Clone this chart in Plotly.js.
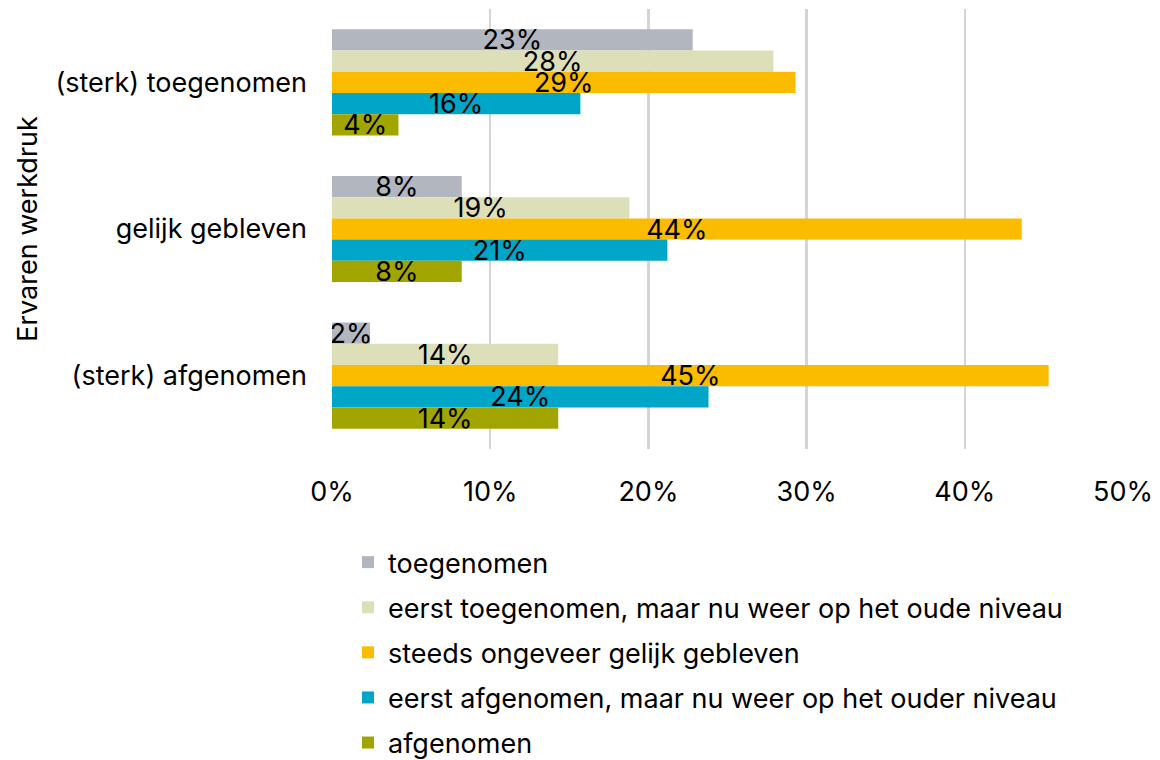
<!DOCTYPE html>
<html>
<head>
<meta charset="utf-8">
<script src="https://cdn.plot.ly/plotly-3.0.1.min.js"></script>
<style>html,body{margin:0;padding:0;background:#fff;}#chart{width:1160px;height:760px;}</style>
</head>
<body>
<div id="chart"></div>
<script>
const categories = ["(sterk) toegenomen", "gelijk gebleven", "(sterk) afgenomen"];
const seriesNames = [
  "toegenomen",
  "eerst toegenomen, maar nu weer op het oude niveau",
  "steeds ongeveer gelijk gebleven",
  "eerst afgenomen, maar nu weer op het ouder niveau",
  "afgenomen"
];
const toegenomen = [0.228, 0.082, 0.024];
const eerstToegenomen = [0.279, 0.188, 0.143];
const steedsGelijk = [0.293, 0.436, 0.453];
const eerstAfgenomen = [0.157, 0.212, 0.238];
const afgenomen = [0.042, 0.082, 0.143];
const colors = ["#b2b6bf", "#dcdfb8", "#fbbc00", "#00a6c8", "#a2a500"];
const xTickVals = [0, 0.1, 0.2, 0.3, 0.4, 0.5];
const xTickText = ["0%", "10%", "20%", "30%", "40%", "50%"];

const FONT = "Inter, sans-serif";
const allSeries = [toegenomen, eerstToegenomen, steedsGelijk, eerstAfgenomen, afgenomen];
const traces = allSeries.map((vals, i) => ({
  type: "bar",
  orientation: "h",
  name: seriesNames[i],
  legendgroup: "g" + i,
  y: categories,
  x: vals,
  marker: {color: colors[i]},
  text: vals.map(v => Math.round(v * 100) + "%"),
  textposition: "inside",
  insidetextanchor: "middle",
  constraintext: "none",
  textangle: 0,
  textfont: {family: FONT, size: 27, color: "#000"},
  hoverinfo: "skip"
}));

const layout = {
  width: 1160,
  height: 760,
  margin: {l: 332, r: 37, t: 9, b: 311},
  paper_bgcolor: "#fff",
  plot_bgcolor: "#fff",
  barmode: "group",
  bargap: 0.276,
  bargroupgap: 0,
  font: {family: FONT, color: "#000"},
  xaxis: {
    range: [0, 0.5],
    tickvals: xTickVals,
    ticktext: xTickText,
    showgrid: true,
    gridcolor: "#d4d4d4",
    gridwidth: 2.5,
    zeroline: false,
    showline: false,
    ticks: "",
    ticklabelstandoff: 24,
    tickfont: {family: FONT, size: 27, color: "#000"},
    automargin: false,
    fixedrange: true
  },
  yaxis: {
    autorange: "reversed",
    showgrid: false,
    zeroline: false,
    showline: false,
    ticks: "",
    ticklabelstandoff: 24,
    tickfont: {family: FONT, size: 27, color: "#000"},
    title: {text: "Ervaren werkdruk", font: {family: FONT, size: 27, color: "#000"}, standoff: 10},
    automargin: false,
    fixedrange: true
  },
  showlegend: true,
  legend: {
    orientation: "v",
    xref: "paper",
    yref: "container",
    x: 0.0202,
    xanchor: "left",
    y: 0.292,
    yanchor: "top",
    traceorder: "grouped",
    tracegroupgap: 7,
    font: {family: FONT, size: 27, color: "#000"},
    itemwidth: 30,
    bgcolor: "rgba(0,0,0,0)"
  }
};

Plotly.newPlot("chart", traces, layout, {displayModeBar: false, staticPlot: true});
</script>
</body>
</html>
